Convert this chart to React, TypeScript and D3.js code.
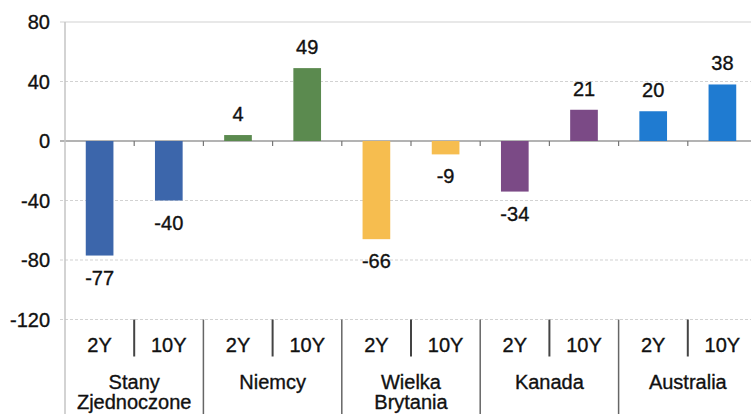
import React from "react";
import * as d3 from "d3";

const countries = ["Stany Zjednoczone", "Niemcy", "Wielka Brytania", "Kanada", "Australia"];
const countryLines = [["Stany", "Zjednoczone"], ["Niemcy"], ["Wielka", "Brytania"], ["Kanada"], ["Australia"]];
const tenors = ["2Y", "10Y"];
const values2Y = [-77, 4, -66, -34, 20];
const values10Y = [-40, 49, -9, 21, 38];
const countryColors = ["#3c66ab", "#5b8a4f", "#f6bd4f", "#7b4a86", "#1f7bd1"];
const yTicks = [80, 40, 0, -40, -80, -120];

const W = 751;
const H = 414;
const FONT = "'Liberation Sans', Arial, sans-serif";
const FS = 20;

export default function App() {
  const items = countries.flatMap((c, i) =>
    tenors.map((t, j) => ({
      key: `${c}|${t}`,
      country: i,
      tenor: t,
      value: j === 0 ? values2Y[i] : values10Y[i],
    }))
  );

  const x = d3
    .scaleBand<string>()
    .domain(items.map((d) => d.key))
    .range([65, 757])
    .paddingInner(0.6)
    .paddingOuter(0.3);
  const step = x.step();
  const x0 = 65;
  const y = d3.scaleLinear().domain([-120, 80]).range([319.5, 22]);

  const tableTop = y(-120);
  const textProps = { fontSize: FS, fill: "#111", stroke: "#111", strokeWidth: 0.35 };

  return (
    <svg
      width={W}
      height={H}
      style={{ position: "absolute", left: 0, top: 0, background: "#fff" }}
      fontFamily={FONT}
    >
      {/* gridlines */}
      {yTicks.map((t) => (
        <line
          key={t}
          x1={60}
          x2={W}
          y1={y(t)}
          y2={y(t)}
          stroke={t === 0 ? "#9a9a9a" : "#d2d2d2"}
          strokeWidth={t === 0 ? 1.5 : 1.2}
          strokeDasharray={t === 0 || t === 80 ? undefined : "3,2"}
        />
      ))}
      {/* y axis */}
      <line x1={x0} x2={x0} y1={y(80)} y2={H} stroke="#c4c4c4" strokeWidth={1.5} />
      {yTicks.map((t) => (
        <text key={"l" + t} x={50} y={y(t) + 7} textAnchor="end" {...textProps}>
          {t}
        </text>
      ))}
      {/* zero-line ticks */}
      {items.slice(1).map((d, i) => (
        <line
          key={"t" + i}
          x1={x0 + step * (i + 1)}
          x2={x0 + step * (i + 1)}
          y1={y(0)}
          y2={y(0) + 5}
          stroke="#777"
          strokeWidth={1.2}
        />
      ))}
      {/* bars */}
      {items.map((d) => (
        <rect
          key={d.key}
          x={x(d.key)}
          width={x.bandwidth()}
          y={Math.min(y(d.value), y(0))}
          height={Math.abs(y(d.value) - y(0))}
          fill={countryColors[d.country]}
        />
      ))}
      {/* value labels */}
      {items.map((d) => (
        <text
          key={"v" + d.key}
          x={(x(d.key) as number) + x.bandwidth() / 2}
          y={d.value >= 0 ? y(d.value) - 14 : y(d.value) + 29}
          textAnchor="middle"
          {...textProps}
        >
          {d.value}
        </text>
      ))}
      {/* category table */}
      {items.slice(1).map((d, i) => {
        const bx = x0 + step * (i + 1);
        const groupEdge = (i + 1) % 2 === 0;
        return (
          <line
            key={"s" + i}
            x1={bx}
            x2={bx}
            y1={tableTop}
            y2={groupEdge ? H : tableTop + 37}
            stroke={groupEdge ? "#666" : "#444"}
            strokeWidth={groupEdge ? 1.5 : 2}
          />
        );
      })}
      {items.map((d) => (
        <text
          key={"n" + d.key}
          x={(x(d.key) as number) + x.bandwidth() / 2}
          y={352}
          textAnchor="middle"
          {...textProps}
        >
          {d.tenor}
        </text>
      ))}
      {countryLines.map((lines, i) => (
        <text key={"c" + i} x={x0 + step * (2 * i + 1)} textAnchor="middle" {...textProps}>
          {lines.map((ln, k) => (
            <tspan key={k} x={x0 + step * (2 * i + 1)} y={389 + k * 20}>
              {ln}
            </tspan>
          ))}
        </text>
      ))}
    </svg>
  );
}
